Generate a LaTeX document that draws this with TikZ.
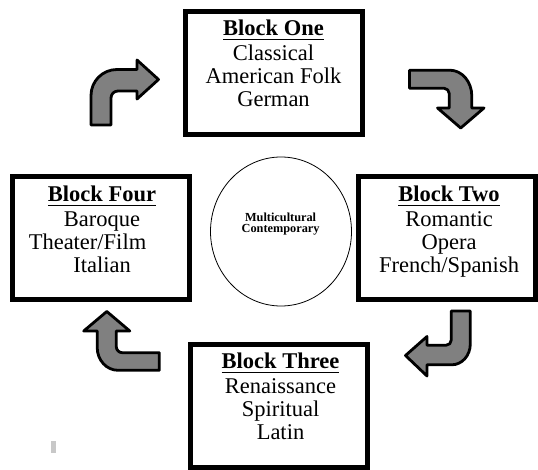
\documentclass[tikz,border=0pt]{standalone}
\usepackage{fontspec}
\setmainfont{Liberation Serif}
\usepackage{tikz}
\usetikzlibrary{shapes.geometric}

\definecolor{arrowgray}{RGB}{128,128,128}
\definecolor{markgray}{RGB}{200,200,200}

\newsavebox{\titlebox}
\newcommand{\blocktitle}[1]{\sbox{\titlebox}{\textbf{#1}}\rlap{\rule[-4.5pt]{\wd\titlebox}{1.6pt}}\usebox{\titlebox}}

\tikzset{
  block/.style={draw, line width=5pt, minimum width=177pt, minimum height=123pt, inner sep=0pt},
  blocktext/.style={anchor=north, align=center, inner sep=0pt, font=\fontsize{22.5}{23}\selectfont},
  hub/.style={draw, ellipse, line width=0.8pt, minimum width=141pt, minimum height=149pt, inner sep=0pt},
  hubtext/.style={anchor=north, align=center, inner sep=0pt, font=\fontsize{12.3}{11.6}\selectfont\bfseries},
  bentarrow/.style={draw, fill=arrowgray, line width=2.8pt, line join=round}
}

\begin{document}
\begin{tikzpicture}[x=1pt,y=-1pt]
    \useasboundingbox (0,0) rectangle (538,470);

    \node[block] at (273.5,73) (one) {};
    \node[block] at (447,238.5) (two) {};
    \node[block] at (279,406) (three) {};
    \node[block] at (100.5,238.5) (four) {};
    \node[hub] at (281,231.5) (hub) {};

    \node[blocktext] at (273.5,19.8) (one text) {\blocktitle{Block One}\\[2pt] Classical\\ American Folk\\ German};
    \node[blocktext] at (449,185.8) (two text) {\blocktitle{Block Two}\\[2pt] Romantic\\ Opera\\ French/Spanish};
    \node[blocktext] at (280.5,353.1) (three text) {\blocktitle{Block Three}\\[2pt] Renaissance\\ Spiritual\\ Latin};
    \node[blocktext] at (102,185.8) (four text) {\blocktitle{Block Four}\\[2pt] Baroque\\ Theater/Film\mbox{\hspace{29pt}}\\ Italian};
    \node[hubtext] at (280.6,212.4) (hub text) {Multicultural\\ Contemporary};

    \draw[bentarrow] (91,125) -- (91,95.5) .. controls (91,81.1) and (102.6,69.5) .. (117,69.5)
        -- (137,69.5) -- (137,60) -- (158.5,79.5) -- (137,99) -- (137,91) -- (118,91)
        .. controls (114.1,91) and (111,94.1) .. (111,98) -- (111,125) -- cycle;
    \draw[bentarrow] (409.5,70.2) -- (449.8,70.2) .. controls (462,70.2) and (471.8,81.7) .. (471.8,96)
        -- (471.8,108) -- (484,108) -- (460.7,128) -- (437.5,108) -- (449.2,108) -- (449.2,93.5)
        .. controls (449.2,90.7) and (447,88.3) .. (444.2,88.3) -- (409.5,88.3) -- cycle;
    \draw[bentarrow] (451.2,311) -- (470.3,311) -- (470.3,344) .. controls (470.3,355.5) and (462,364.8) .. (451.8,364.8)
        -- (427,364.8) -- (427,376) -- (405.5,355.5) -- (427,336.5) -- (427,345.2) -- (446.2,345.2)
        .. controls (449,345.2) and (451.2,343) .. (451.2,340.2) -- cycle;
    \draw[bentarrow] (159.3,370.3) -- (118,370.3) .. controls (106.5,370.3) and (97.2,360.1) .. (97.2,347.5)
        -- (97.2,331) -- (83.7,331) -- (106.8,311.5) -- (129.8,331) -- (116.3,331) -- (116.3,346.7)
        .. controls (116.3,350) and (119,352.7) .. (122.3,352.7) -- (159.3,352.7) -- cycle;

    \fill[markgray] (50.5,440.5) rectangle (55.5,452.5);
\end{tikzpicture}
\end{document}
